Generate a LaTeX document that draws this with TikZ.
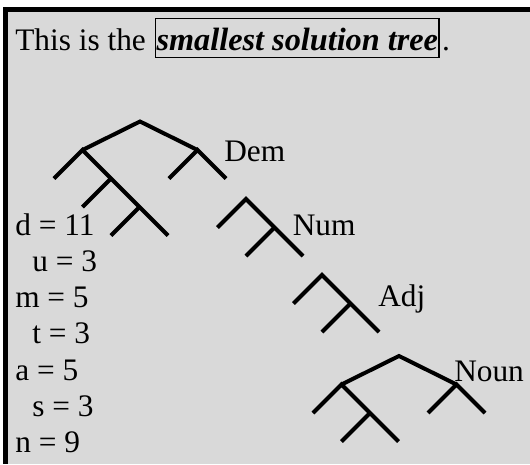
\documentclass[tikz,border=0pt]{standalone}
\usepackage{fontspec}
\setmainfont{Liberation Serif}
\usetikzlibrary{positioning}
\definecolor{panelgray}{RGB}{217,217,217}

\begin{document}
\begin{tikzpicture}[
  x=0.75pt, y=-0.75pt,
  txt/.style={font=\fontsize{23.5}{28}\selectfont, inner sep=0pt, anchor=base west},
  hl/.style={txt, draw, line width=1.1pt, inner sep=0.8pt, text height=23pt,
             text depth=4.8pt, font=\fontsize{24.2}{28}\selectfont\bfseries\itshape},
  branch/.style={line width=3pt, line join=miter},
]
% panel with thick top and left edge
\useasboundingbox (0,0) rectangle (530,464);
\fill[white] (0,0) rectangle (530,464);
\fill[panelgray] (2.5,6.5) rectangle (530,464);
\fill[black] (2.5,6.5) rectangle (530,12.3);
\fill[black] (2.5,6.5) rectangle (8.3,464);

\node[txt] (intro) at (15,50) {This is the};
\node[hl, right=6.5pt of intro.base east, anchor=base west] (key) {smallest solution tree};
\node[txt, right=1.5pt of key.base east, anchor=base west] (stop) {.};

% Dem tree
\coordinate (dem) at (140,121.5);
\coordinate (demL) at (82.5,150);
\coordinate (demR) at (197.5,150);
\coordinate (demLa) at (54,178.5);
\coordinate (demLb) at (111,178.5);
\coordinate (demLba) at (82.5,207);
\coordinate (demLbb) at (139.5,207);
\coordinate (demLbba) at (111,235.5);
\coordinate (demLbbb) at (168,235.5);
\coordinate (demRa) at (169,178.5);
\coordinate (demRb) at (226,178.5);
\draw[branch] (demL) -- (dem) -- (demR);
\draw[branch] (demLa) -- (demL) -- (demLb) -- (demLbb) -- (demLbbb);
\draw[branch] (demLba) -- (demLb);
\draw[branch] (demLbba) -- (demLbb);
\draw[branch] (demRa) -- (demR) -- (demRb);

% Num tree
\coordinate (num) at (246,199);
\coordinate (numa) at (217.5,227.5);
\coordinate (numb) at (274.5,227.5);
\coordinate (numba) at (246,256);
\coordinate (numbb) at (303,256);
\draw[branch] (numa) -- (num) -- (numb) -- (numbb);
\draw[branch] (numba) -- (numb);

% Adj tree
\coordinate (adj) at (322,275);
\coordinate (adja) at (293.5,303.5);
\coordinate (adjb) at (350.5,303.5);
\coordinate (adjba) at (322,332);
\coordinate (adjbb) at (379,332);
\draw[branch] (adja) -- (adj) -- (adjb) -- (adjbb);
\draw[branch] (adjba) -- (adjb);

% Noun tree
\coordinate (noun) at (399,356);
\coordinate (nounL) at (341.5,384.5);
\coordinate (nounR) at (456.5,384.5);
\coordinate (nounLa) at (313,413);
\coordinate (nounLb) at (370,413);
\coordinate (nounLba) at (341.5,441.5);
\coordinate (nounLbb) at (398.5,441.5);
\coordinate (nounRa) at (428,413);
\coordinate (nounRb) at (485,413);
\draw[branch] (nounL) -- (noun) -- (nounR);
\draw[branch] (nounLa) -- (nounL) -- (nounLb) -- (nounLbb);
\draw[branch] (nounLba) -- (nounLb);
\draw[branch] (nounRa) -- (nounR) -- (nounRb);

\node[txt] (demlab) at (224,161) {Dem};
\node[txt] (numlab) at (292.5,235) {Num};
\node[txt] (adjlab) at (378,306.5) {Adj};
\node[txt] (nounlab) at (454,381.5) {Noun};

% counts
\node[txt] (cd) at (15,235) {d = 11};
\node[txt] (cu) at (32,271.3) {u = 3};
\node[txt] (cm) at (15,307.6) {m = 5};
\node[txt] (ct) at (32,343.9) {t = 3};
\node[txt] (ca) at (15,380.2) {a = 5};
\node[txt] (cs) at (32,416.5) {s = 3};
\node[txt] (cn) at (15,452.8) {n = 9};
\end{tikzpicture}
\end{document}
